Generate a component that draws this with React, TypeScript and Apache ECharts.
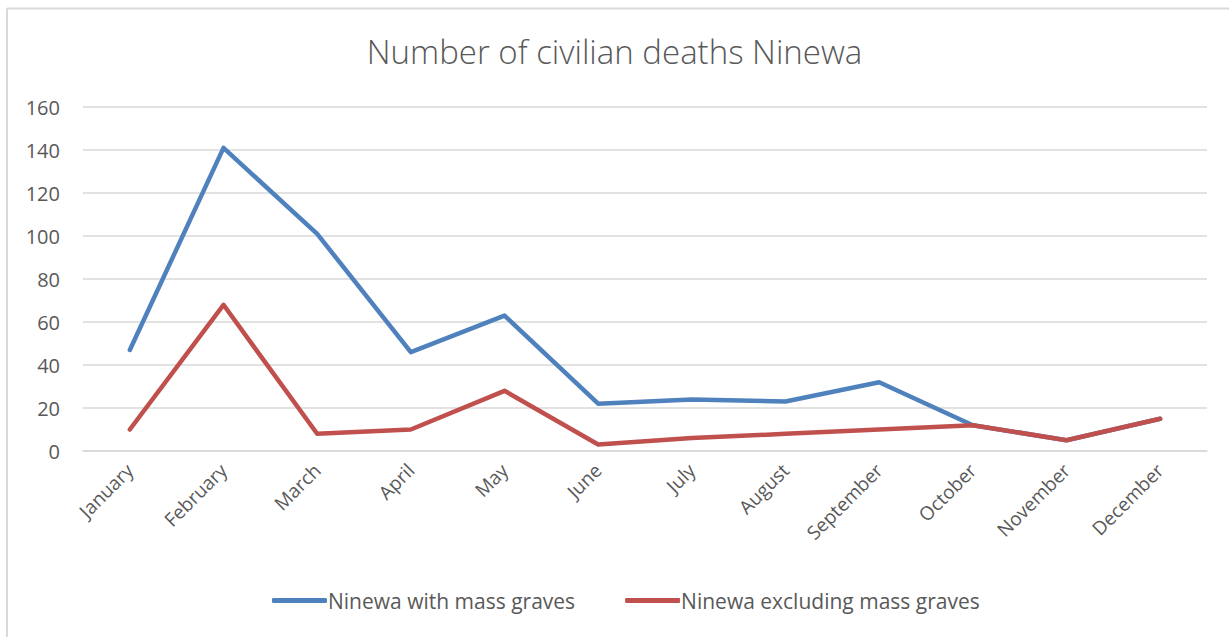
import React, { useEffect, useRef } from "react";
import * as echarts from "echarts";

const months = [
  "January", "February", "March", "April", "May", "June",
  "July", "August", "September", "October", "November", "December",
];
const withMassGraves = [47, 141, 101, 46, 63, 22, 24, 23, 32, 12, 5, 15];
const excludingMassGraves = [10, 68, 8, 10, 28, 3, 6, 8, 10, 12, 5, 15];
const yTicks = { min: 0, max: 160, interval: 20 };

const FONT = "'Open Sans', 'Noto Sans', sans-serif";
const TEXT = "#595959";
const GRID = "#d9d9d9";

export default function App() {
  const ref = useRef<HTMLDivElement>(null);

  useEffect(() => {
    if (!ref.current) return;
    const chart = echarts.init(ref.current, undefined, { renderer: "svg" });
    chart.setOption({
      animation: false,
      backgroundColor: "#ffffff",
      title: {
        text: "Number of civilian deaths Ninewa",
        left: "center",
        top: 30,
        textStyle: { fontFamily: FONT, fontSize: 33, fontWeight: 300, color: TEXT },
      },
      graphic: [
        { type: "line", shape: { x1: 7, y1: 8.5, x2: 1229, y2: 8.5 }, style: { stroke: GRID, lineWidth: 2 } },
        { type: "line", shape: { x1: 7, y1: 8.5, x2: 7, y2: 637 }, style: { stroke: GRID, lineWidth: 2 } },
      ],
      legend: {
        bottom: 21,
        left: 267,
        itemWidth: 55,
        itemHeight: 5,
        itemGap: 50,
        icon: "roundRect",
        textStyle: { fontFamily: FONT, fontSize: 21, color: TEXT, padding: [0, 0, 0, -4] },
        data: ["Ninewa with mass graves", "Ninewa excluding mass graves"],
      },
      grid: { left: 83, right: 22, top: 107, bottom: 186, containLabel: false },
      xAxis: {
        type: "category",
        data: months,
        boundaryGap: true,
        axisLine: { show: true, lineStyle: { color: GRID, width: 1.5 } },
        axisTick: { show: false },
        axisLabel: {
          rotate: 45,
          margin: 16,
          fontFamily: FONT,
          fontSize: 19,
          color: TEXT,
          interval: 0,
        },
      },
      yAxis: {
        type: "value",
        min: yTicks.min,
        max: yTicks.max,
        interval: yTicks.interval,
        axisLine: { show: false },
        axisTick: { show: false },
        axisLabel: { fontFamily: FONT, fontSize: 20, color: TEXT, margin: 23 },
        splitLine: { lineStyle: { color: GRID, width: 1.5 } },
      },
      series: [
        {
          name: "Ninewa with mass graves",
          type: "line",
          data: withMassGraves,
          symbol: "none",
          color: "#4f81bd",
          lineStyle: { width: 4.5, color: "#4f81bd", cap: "round", join: "round" },
        },
        {
          name: "Ninewa excluding mass graves",
          type: "line",
          data: excludingMassGraves,
          symbol: "none",
          color: "#c0504d",
          lineStyle: { width: 4.5, color: "#c0504d", cap: "round", join: "round" },
        },
      ],
    });
    return () => chart.dispose();
  }, []);

  return (
    <div
      ref={ref}
      style={{ position: "fixed", left: 0, top: 0, width: 1229, height: 637 }}
    />
  );
}
